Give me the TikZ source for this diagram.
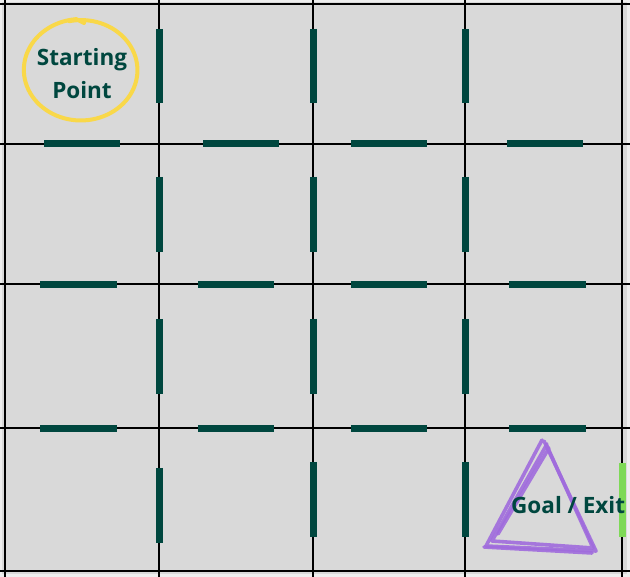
\documentclass[tikz,border=0pt]{standalone}
\usepackage{fontspec}
\setmainfont{Open Sans}
\definecolor{bgout}{HTML}{EEEEEE}
\definecolor{bgcell}{HTML}{D9D9D9}
\definecolor{wallc}{HTML}{00473F}
\definecolor{exitc}{HTML}{7ED957}
\definecolor{triC}{HTML}{A06CDD}
\definecolor{circC}{HTML}{F9D849}
\begin{document}
\begin{tikzpicture}[x=1pt,y=-1pt,
  gridline/.style={line width=1.6pt,black},
  wall/.style={line width=7pt,wallc},
  exitwall/.style={line width=7pt,exitc},
  tri/.style={line width=3.6pt,triC,line join=round,line cap=round,opacity=0.9},
  lbl/.style={font=\bfseries\fontsize{22.5}{27}\selectfont,text=wallc,inner sep=0pt}]
\useasboundingbox (0,0) rectangle (630,577);
\fill[bgout] (0,0) rectangle (630,577);
\fill[bgcell] (2,2) rectangle (627,574);
% grid
\foreach \gx in {5,159,313,465,622} \draw[gridline] (\gx,0) -- (\gx,577);
\foreach \gy in {4,144,284,428,571} \draw[gridline] (0,\gy) -- (630,\gy);
% vertical walls
\foreach \gx in {159,313,465} {
  \draw[wall] (\gx,29) -- (\gx,103);
  \draw[wall] (\gx,177) -- (\gx,252);
  \draw[wall] (\gx,319) -- (\gx,394);
}
\draw[wall] (159,468) -- (159,543);
\draw[wall] (313,462) -- (313,537);
\draw[wall] (465,462) -- (465,537);
\draw[exitwall] (622,463) -- (622,537);
% horizontal walls
\draw[wall] (44,144) -- (120,144);
\draw[wall] (203,144) -- (279,144);
\draw[wall] (351,144) -- (427,144);
\draw[wall] (507,144) -- (583,144);
\foreach \gy in {285,429} {
  \draw[wall] (40,\gy) -- (117,\gy);
  \draw[wall] (198,\gy) -- (274,\gy);
  \draw[wall] (351,\gy) -- (427,\gy);
  \draw[wall] (509,\gy) -- (586,\gy);
}
% starting point circle
\draw[circC,line width=4pt,line cap=round]
  plot[domain=96:462,samples=90,smooth]
  ({81+(57.5-0.004*(\x-96))*cos(\x)},{70-(51-0.003*(\x-96))*sin(\x)});
\draw[circC,line width=4pt,line cap=round] (76,19) -- (84,23);
\node[lbl,anchor=base] (start1) at (82,66) {Starting};
\node[lbl,anchor=base] (start2) at (82,99) {Point};
% goal triangle
\draw[tri] (542,440) -- (486,546) -- (596,551) -- (544,441);
\draw[tri] (547,444) -- (492,541) -- (593,548) -- (547,446);
\draw[tri] (549,448) -- (498,534);
\draw[tri] (484,547) -- (592,553);
\node[lbl,anchor=base west] (goal) at (511,514) {Goal / Exit};
\end{tikzpicture}
\end{document}
